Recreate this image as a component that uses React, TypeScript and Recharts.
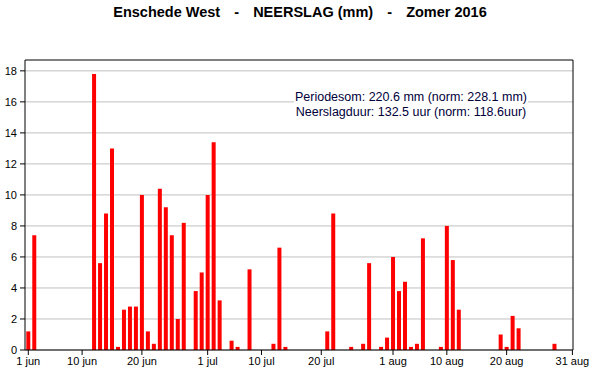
import React from 'react';
import { ComposedChart, Bar, XAxis, YAxis, CartesianGrid, ReferenceLine, Customized } from 'recharts';

// Daily rainfall (mm), summer 2016
const junRain = [1.2, 7.4, 0, 0, 0, 0, 0, 0, 0, 0, 0, 17.8, 5.6, 8.8, 13.0, 0.2, 2.6, 2.8, 2.8, 10.0, 1.2, 0.4, 10.4, 9.2, 7.4, 2.0, 8.2, 0, 3.8, 5.0];
const julRain = [10.0, 13.4, 3.2, 0, 0.6, 0.2, 0, 5.2, 0, 0, 0, 0.4, 6.6, 0.2, 0, 0, 0, 0, 0, 0, 1.2, 8.8, 0, 0, 0.2, 0, 0.4, 5.6, 0, 0.2, 0.8];
const augRain = [6.0, 3.8, 4.4, 0.2, 0.4, 7.2, 0, 0, 0.2, 8.0, 5.8, 2.6, 0, 0, 0, 0, 0, 0, 1.0, 0.2, 2.2, 1.4, 0, 0, 0, 0, 0, 0.4, 0, 0, 0];

const tickDays = [0, 9, 19, 30, 39, 49, 61, 70, 80, 91];
const tickLabels = ['1 jun', '10 jun', '20 jun', '1 jul', '10 jul', '20 jul', '1 aug', '10 aug', '20 aug', '31 aug'];
const yTicks = [0, 2, 4, 6, 8, 10, 12, 14, 16, 18];

const titleParts = ['Enschede West', 'NEERSLAG (mm)', 'Zomer 2016'];
const titleSep = '  -  ';
const noteLines = ['Periodesom: 220.6 mm (norm: 228.1 mm)', 'Neerslagduur: 132.5 uur (norm: 118.6uur)'];

const data = [...junRain, ...julRain, ...augRain].map((v, i) => ({ day: i, rain: v }));

const FONT = '"Liberation Sans", Arial, sans-serif';
const Y_MAX = 18.7;

const Overlay = () => (
  <g>
    <text x={300} y={17} textAnchor="middle" fontFamily={FONT} fontSize={14.5} fontWeight="bold" fill="#000" style={{ whiteSpace: 'pre' }}>
      {titleParts.map((p, i) => (
        <React.Fragment key={i}>
          {i > 0 && <tspan style={{ wordSpacing: '3px' }}>{titleSep}</tspan>}
          <tspan>{p}</tspan>
        </React.Fragment>
      ))}
    </text>
    <rect x={294} y={89} width={234} height={30} fill="#fff" />
    {noteLines.map((t, i) => (
      <text key={i} x={411} y={100.5 + i * 15.3} textAnchor="middle" fontFamily={FONT} fontSize={12.5} fill="#00003a">
        {t}
      </text>
    ))}
  </g>
);

export default function App() {
  return (
    <div style={{ position: 'absolute', left: 0, top: 0, background: '#fff' }}>
      <ComposedChart width={600} height={390} data={data} margin={{ top: 60, right: 0, bottom: 10, left: 0 }}>
        <CartesianGrid vertical={false} stroke="#c0c0c0" horizontalValues={yTicks} yAxisId="left" />
        <XAxis
          type="number"
          dataKey="day"
          domain={[-0.55, 91.1]}
          allowDataOverflow
          ticks={tickDays}
          interval={0}
          tickFormatter={(v: number) => tickLabels[tickDays.indexOf(v)] ?? ''}
          height={30}
          tickSize={5}
          tickMargin={2}
          stroke="#000"
          tick={{ fill: '#000', fontSize: 11, fontFamily: FONT }}
          axisLine={{ stroke: '#000' }}
          tickLine={{ stroke: '#000' }}
        />
        <YAxis
          yAxisId="left"
          orientation="left"
          domain={[0, Y_MAX]}
          ticks={yTicks}
          interval={0}
          width={25}
          tickSize={5}
          tickMargin={3}
          tick={{ fill: '#000', fontSize: 11, fontFamily: FONT }}
          axisLine={{ stroke: '#000' }}
          tickLine={{ stroke: '#000' }}
        />
        <YAxis
          yAxisId="right"
          orientation="right"
          domain={[0, Y_MAX]}
          ticks={yTicks}
          interval={0}
          width={27}
          tickSize={5}
          tickMargin={2}
          tick={{ fill: '#000', fontSize: 11, fontFamily: FONT }}
          axisLine={{ stroke: '#000' }}
          tickLine={{ stroke: '#000' }}
        />
        <Bar yAxisId="left" dataKey="rain" fill="#ff0000" barSize={4} isAnimationActive={false} />
        <ReferenceLine yAxisId="left" y={Y_MAX} stroke="#000" />
        <Customized component={<Overlay />} />
      </ComposedChart>
    </div>
  );
}
